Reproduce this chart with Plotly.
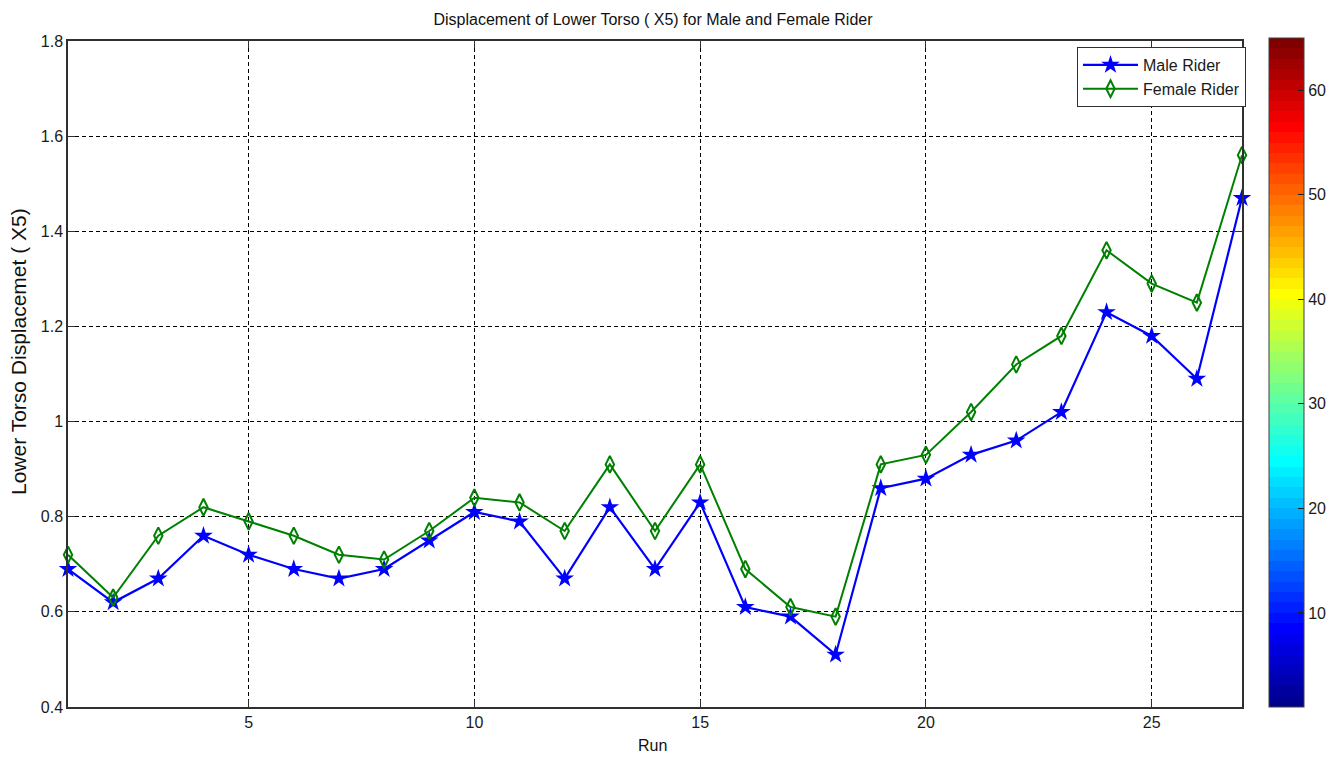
import plotly.graph_objects as go

runs = list(range(1, 28))
male = [0.69, 0.62, 0.67, 0.76, 0.72, 0.69, 0.67, 0.69, 0.75, 0.81, 0.79, 0.67, 0.82, 0.69,
        0.83, 0.61, 0.59, 0.51, 0.86, 0.88, 0.93, 0.96, 1.02, 1.23, 1.18, 1.09, 1.47]
female = [0.72, 0.63, 0.76, 0.82, 0.79, 0.76, 0.72, 0.71, 0.77, 0.84, 0.83, 0.77, 0.91, 0.77,
          0.91, 0.69, 0.61, 0.59, 0.91, 0.93, 1.02, 1.12, 1.18, 1.36, 1.29, 1.25, 1.56]
x_ticks = [5, 10, 15, 20, 25]
y_ticks = [0.4, 0.6, 0.8, 1.0, 1.2, 1.4, 1.6, 1.8]
y_tick_text = ["0.4", "0.6", "0.8", "1", "1.2", "1.4", "1.6", "1.8"]
cbar_ticks = [10, 20, 30, 40, 50, 60]
cbar_min, cbar_max = 1, 65

# MATLAB jet(64) colormap, stepped
n = 64
J = [[0.0, 0.0, 0.0] for _ in range(n)]
u = [k / 16 for k in range(1, 17)] + [1.0] * 15 + [k / 16 for k in range(16, 0, -1)]
for k in range(len(u)):
    g = 9 + k
    r = g + 16
    b = g - 16
    if g <= n:
        J[g - 1][1] = u[k]
    if r <= n:
        J[r - 1][0] = u[k]
    if b >= 1:
        J[b - 1][2] = u[k]
colorscale = []
for i, c in enumerate(J):
    col = "rgb(%d,%d,%d)" % tuple(round(v * 255) for v in c)
    colorscale.append([i / n, col])
    colorscale.append([(i + 1) / n, col])

FONT = "Liberation Sans, Arial"
W, H = 1330, 749          # page body has an 8px margin
L, R, T, B = 60, 96, 33, 50
PW, PH = W - L - R, H - T - B

fig = go.Figure()
fig.add_trace(go.Scatter(
    x=runs, y=male, name="Male Rider", mode="lines+markers", cliponaxis=False,
    line=dict(color="#0000ff", width=2.2),
    marker=dict(symbol="star", size=14, color="#0000ff", line=dict(color="#0000ff", width=0)),
))
fig.add_trace(go.Scatter(
    x=runs, y=female, name="Female Rider", mode="lines+markers", cliponaxis=False,
    line=dict(color="#008000", width=2),
    marker=dict(symbol="diamond-tall-open", size=12, color="#008000", line=dict(color="#008000", width=2)),
))
fig.add_trace(go.Scatter(
    x=[None], y=[None], mode="markers", showlegend=False, hoverinfo="skip",
    marker=dict(
        color=[cbar_min], cmin=cbar_min, cmax=cbar_max, colorscale=colorscale, showscale=True,
        colorbar=dict(
            x=(1261 - L) / PW, xanchor="left", xpad=0, thickness=35, thicknessmode="pixels",
            y=1 + 3 / PH, yanchor="top", ypad=0, len=669, lenmode="pixels",
            outlinecolor="#404040", outlinewidth=1,
            tickvals=cbar_ticks, ticks="inside", ticklen=6, tickcolor="#202020",
            tickfont=dict(family=FONT, size=16, color="#1a1a1a"),
        ),
    ),
))

axis_common = dict(
    showline=True, linecolor="#303030", linewidth=1.5, mirror="ticks",
    ticks="inside", ticklen=7, tickcolor="#303030",
    showgrid=True, gridcolor="#000000", gridwidth=1, griddash="4px,3px",
    zeroline=False,
    tickfont=dict(family=FONT, size=16, color="#1a1a1a"),
)

fig.update_layout(
    width=W, height=H,
    paper_bgcolor="white", plot_bgcolor="white",
    margin=dict(l=L, r=R, t=T, b=B, autoexpand=False),
    font=dict(family=FONT, color="#111111"),
    title=dict(
        text="Displacement of Lower Torso ( X5) for Male and Female Rider",
        xref="container", x=645 / W, xanchor="center",
        yref="container", y=1 - 11 / H, yanchor="middle",
        font=dict(size=16, color="#111111"),
    ),
    xaxis=dict(range=[1, 27], tickvals=x_ticks, **axis_common),
    yaxis=dict(range=[0.4, 1.8], tickvals=y_ticks, ticktext=y_tick_text, **axis_common),
    annotations=[
        dict(text="Run", xref="paper", yref="paper",
             x=(644 - L) / PW, y=(H - B - 737) / PH, xanchor="center", yanchor="middle",
             showarrow=False, font=dict(size=16, color="#111111")),
        dict(text="Lower Torso Displacemet ( X5)", xref="paper", yref="paper",
             x=(10 - L) / PW, y=(H - B - 344) / PH, xanchor="center", yanchor="middle",
             textangle=-90, showarrow=False, font=dict(size=21, color="#111111")),
    ],
    legend=dict(
        x=(1238 - L) / PW, xanchor="right", y=1 - 6 / PH, yanchor="top",
        bgcolor="white", bordercolor="#303030", borderwidth=1,
        font=dict(size=16, color="#1a1a1a"),
        tracegroupgap=0, itemwidth=55,
    ),
    showlegend=True,
)

fig.write_html("out.html")
